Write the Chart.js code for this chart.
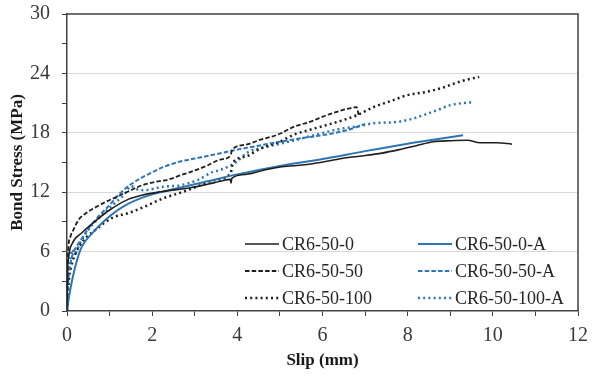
<!DOCTYPE html>
<html>
<head>
<meta charset="utf-8">
<script src="https://cdn.jsdelivr.net/npm/chart.js@4.4.0/dist/chart.umd.min.js"></script>
<style>
body{margin:0;background:#fff}
#wrap{width:592px;height:377px}
</style>
</head>
<body>
<div id="wrap"><canvas id="c"></canvas></div>
<script>
// slip (mm) and bond stress (MPa), one pair per specimen
const labels = ["CR6-50-0", "CR6-50-0-A", "CR6-50-50", "CR6-50-50-A", "CR6-50-100", "CR6-50-100-A"]

const slip0 = [0, 0.01, 0.04, 0.12, 0.35, 0.67, 1.0, 1.45, 1.76, 2.2, 2.9, 3.3, 3.6, 3.84, 3.85, 3.87, 4.2, 4.6, 5.0, 5.4, 5.8, 6.2, 6.6, 7.0, 7.4, 7.8, 8.2, 8.6, 9.0, 9.4, 9.7, 10.1, 10.45]
const stress0 = [0, 3.5, 5.5, 6.8, 7.9, 9.1, 10.2, 11.3, 11.7, 12.05, 12.45, 12.8, 13.1, 13.3, 12.9, 13.4, 13.8, 14.2, 14.55, 14.7, 14.9, 15.2, 15.5, 15.7, 15.95, 16.3, 16.7, 17.1, 17.2, 17.25, 17.0, 17.0, 16.85]

const slip0A = [0, 0.05, 0.12, 0.24, 0.35, 0.6, 0.9, 1.3, 1.8, 2.3, 2.7, 3.3, 4.0, 5.0, 6.0, 7.0, 8.0, 8.6, 9.3]
const stress0A = [0, 1.5, 3.1, 5.2, 6.5, 7.9, 9.2, 10.5, 11.5, 12.1, 12.5, 13.1, 13.8, 14.65, 15.35, 16.15, 16.9, 17.3, 17.75]

const slip50 = [0, 0.01, 0.03, 0.08, 0.15, 0.27, 0.45, 0.6, 0.9, 1.2, 1.45, 1.76, 2.03, 2.4, 2.66, 3.0, 3.3, 3.6, 3.84, 3.88, 4.2, 4.54, 5.0, 5.32, 5.7, 6.11, 6.4, 6.66, 6.8, 6.85]
const stress50 = [0, 4.0, 6.3, 7.5, 8.2, 9.2, 9.9, 10.3, 11.0, 11.6, 12.1, 12.7, 13.0, 13.3, 13.7, 14.2, 14.7, 15.3, 15.7, 16.3, 16.8, 17.3, 17.9, 18.6, 19.1, 19.8, 20.2, 20.5, 20.6, 19.8]

const slip50A = [0, 0.03, 0.08, 0.15, 0.3, 0.5, 0.75, 1.0, 1.25, 1.5, 1.95, 2.3, 2.66, 3.0, 3.4, 4.0, 4.5, 5.0, 5.5, 6.19, 6.6, 7.0]
const stress50A = [0, 3.0, 4.8, 5.9, 7.0, 8.3, 9.6, 10.7, 11.9, 12.8, 13.9, 14.6, 15.1, 15.4, 15.75, 16.3, 16.7, 17.1, 17.45, 17.9, 18.3, 18.9]

const slip100 = [0, 0.03, 0.1, 0.2, 0.4, 0.67, 1.06, 1.45, 1.8, 2.27, 2.7, 3.05, 3.44, 3.84, 3.9, 4.2, 4.54, 5.0, 5.32, 5.7, 6.11, 6.5, 6.82, 7.2, 7.6, 7.99, 8.4, 8.78, 9.25, 9.68]
const stress100 = [0, 2.5, 4.5, 5.8, 7.2, 8.2, 9.4, 9.9, 10.5, 11.4, 12.0, 12.56, 13.2, 13.9, 15.0, 15.6, 16.4, 17.1, 17.8, 18.3, 18.8, 19.3, 19.8, 20.6, 21.2, 21.8, 22.1, 22.5, 23.2, 23.65]

const slip100A = [0, 0.03, 0.08, 0.12, 0.18, 0.3, 0.5, 0.8, 1.1, 1.35, 1.5, 1.65, 1.8, 2.27, 2.66, 3.05, 3.44, 3.6, 3.99, 4.23, 4.6, 5.01, 5.4, 5.8, 6.42, 6.89, 7.2, 7.76, 8.1, 8.38, 8.7, 9.01, 9.3, 9.56]
const stress100A = [0, 3.0, 5.2, 6.2, 5.8, 6.8, 8.2, 9.6, 10.8, 11.8, 12.6, 12.3, 12.2, 12.56, 12.7, 13.2, 14.07, 14.24, 15.1, 16.0, 16.5, 16.9, 17.3, 17.75, 18.4, 18.7, 18.96, 19.1, 19.4, 19.8, 20.3, 20.8, 21.0, 21.1]

const black = "#1f1f1f"
const blue = "#2e75b6"

function pts(xs, ys){
    return xs.map((x, i) => ({x: x, y: ys[i]}))
}

function series(label, xs, ys, color, dash, width){
    return {
        label: label,
        data: pts(xs, ys),
        borderColor: color,
        borderWidth: width,
        borderDash: dash,
        pointRadius: 0,
        fill: false,
        cubicInterpolationMode: "monotone"
    }
}

// legend sits inside the plot, lower right, two columns
const legendBox = {
    id: "legendBox",
    afterDraw(chart){
        const {ctx, chartArea} = chart
        const cols = [chartArea.left + 178, chartArea.left + 351]
        const rows = [chartArea.bottom - 67, chartArea.bottom - 40, chartArea.bottom - 13]
        ctx.save()
        ctx.font = "18px 'Liberation Serif'"
        ctx.textBaseline = "middle"
        chart.data.datasets.forEach((ds, i) => {
            const x = cols[i % 2]
            const y = rows[Math.floor(i / 2)]
            ctx.strokeStyle = ds.borderColor
            ctx.lineWidth = ds.borderWidth
            ctx.setLineDash(ds.borderDash)
            ctx.beginPath()
            ctx.moveTo(x, y)
            ctx.lineTo(x + 34, y)
            ctx.stroke()
            ctx.setLineDash([])
            ctx.fillStyle = "#262626"
            ctx.fillText(ds.label, x + 37, y + 1)
        })
        ctx.restore()
    }
}

// top and right edges of the plot box
const frame = {
    id: "frame",
    afterDraw(chart){
        const {ctx, chartArea} = chart
        ctx.save()
        ctx.strokeStyle = "#404040"
        ctx.lineWidth = 1.5
        ctx.beginPath()
        ctx.moveTo(chartArea.left, chartArea.top)
        ctx.lineTo(chartArea.right, chartArea.top)
        ctx.lineTo(chartArea.right, chartArea.bottom)
        ctx.stroke()
        ctx.restore()
    }
}

const tickFont = {family: "'Liberation Serif'", size: 20}
const titleFont = {family: "'Liberation Serif'", size: 17, weight: "bold"}

new Chart(document.getElementById("c"), {
    type: "line",
    data: {
        datasets: [
            series(labels[0], slip0, stress0, black, [], 1.6),
            series(labels[1], slip0A, stress0A, blue, [], 2),
            series(labels[2], slip50, stress50, black, [4.5, 2.2], 1.8),
            series(labels[3], slip50A, stress50A, blue, [4.5, 2.2], 2),
            series(labels[4], slip100, stress100, black, [2, 3.2], 2.5),
            series(labels[5], slip100A, stress100A, blue, [2, 3.2], 2.5)
        ]
    },
    options: {
        responsive: true,
        maintainAspectRatio: false,
        animation: false,
        layout: {padding: {top: 14, right: 14, left: 0, bottom: 0}},
        plugins: {
            legend: {display: false},
            tooltip: {enabled: false}
        },
        scales: {
            x: {
                type: "linear",
                min: 0,
                max: 12,
                afterFit: (s) => { s.height = 66; s.paddingLeft = 0; s.paddingRight = 0 },
                ticks: {
                    stepSize: 1,
                    autoSkip: false,
                    maxRotation: 0,
                    padding: 8,
                    color: "#3a3a3a",
                    font: tickFont,
                    callback: (v) => v % 2 === 0 ? v : ""
                },
                grid: {
                    drawOnChartArea: false,
                    tickLength: 5,
                    tickColor: "#404040"
                },
                border: {color: "#404040", width: 1.5},
                title: {
                    display: true,
                    text: "Slip (mm)",
                    color: "#1a1a1a",
                    font: titleFont,
                    padding: {top: 0, bottom: 6}
                }
            },
            y: {
                min: 0,
                max: 30,
                afterFit: (s) => { s.width = 67; s.paddingTop = 0; s.paddingBottom = 0 },
                ticks: {
                    stepSize: 3,
                    autoSkip: false,
                    padding: 12,
                    color: "#3a3a3a",
                    font: tickFont,
                    callback: (v) => v % 6 === 0 ? v : ""
                },
                grid: {
                    tickLength: 5,
                    tickColor: "#404040",
                    color: (c) => (c.tick && c.tick.value % 6 === 0 && c.tick.value > 0 && c.tick.value < 30) ? "#d9d9d9" : "rgba(0,0,0,0)"
                },
                border: {color: "#404040", width: 1.5},
                title: {
                    display: true,
                    text: "Bond Stress (MPa)",
                    color: "#1a1a1a",
                    font: titleFont,
                    padding: {top: 7, bottom: 0}
                }
            }
        }
    },
    plugins: [legendBox, frame]
})
</script>
</body>
</html>
